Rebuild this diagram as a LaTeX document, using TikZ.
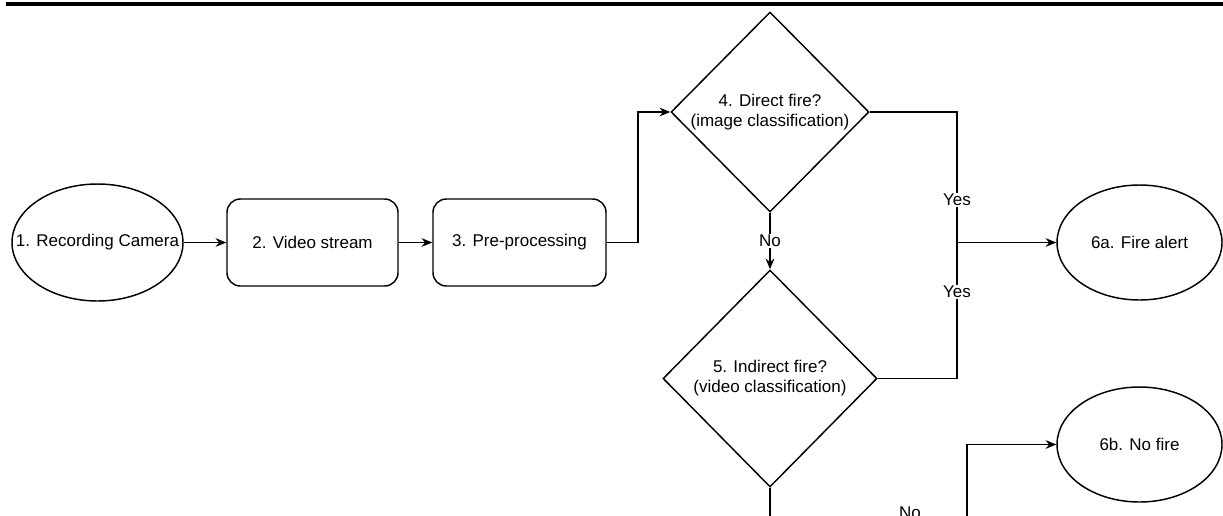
\documentclass[tikz,border=0pt]{standalone}
\usepackage{fontspec}
\setmainfont{Liberation Sans}
\usetikzlibrary{shapes.geometric,arrows.meta}

\begin{document}
\begin{tikzpicture}[x=0.75pt,y=-0.75pt,
  font=\fontsize{12.75}{15}\selectfont,
  line width=1.1pt,
  >={Stealth[length=8pt,width=6.5pt]},
  term/.style={draw,ellipse,inner sep=0pt,minimum width=123.75pt,minimum height=86.25pt},
  proc/.style={draw,rounded corners=10pt,minimum width=128.25pt,minimum height=65.25pt},
  decide/.style={draw,diamond,aspect=1,inner sep=0pt,align=center},
  lbl/.style={fill=white,inner sep=1pt}]
%\draw[help lines] (0,0) grid (1223,515);
\clip (0,0) rectangle (1223,515);
\fill (6,2) rectangle (1223,6);
\node (cam) [term,minimum width=128.25pt,minimum height=87.75pt] at (97.5,242.5) {\makebox[0pt]{1. Recording Camera}};
\node (vid) [proc] at (312.5,242.5) {2. Video stream};
\node (pre) [proc,minimum width=129.75pt] at (519.5,242.5) {3. Pre-processing};
\node (direct) [decide,minimum width=148.5pt,minimum height=150pt] at (770,112) {4. Direct fire?\\(image classification)};
\node (indirect) [decide,minimum width=160.5pt,minimum height=162.75pt] at (770,378.5) {5. Indirect fire?\\(video classification)};
\node (alert) [term] at (1139.5,242.5) {6a. Fire alert};
\node (nofire) [term] at (1139.5,444.5) {6b. No fire};
\coordinate (up) at (638,112);
\coordinate (yes) at (957,242.5);
\coordinate (no) at (967,518);
\draw[->] (cam) -- (vid);
\draw[->] (vid) -- (pre);
\draw[->] (pre.east) -| (up) -- (direct.west);
\draw (direct.east) -| node[lbl,pos=0.837] {Yes} (yes);
\draw (indirect.east) -| node[lbl,pos=0.818] {Yes} (yes);
\draw[->] (yes) -- (alert.west);
\draw[->] (direct.south) -- node[lbl] {No} (indirect.north);
\draw[->] (indirect.south) |- node[lbl,pos=0.855,yshift=3.75pt] {No} (no) |- (nofire.west);
\end{tikzpicture}
\end{document}
